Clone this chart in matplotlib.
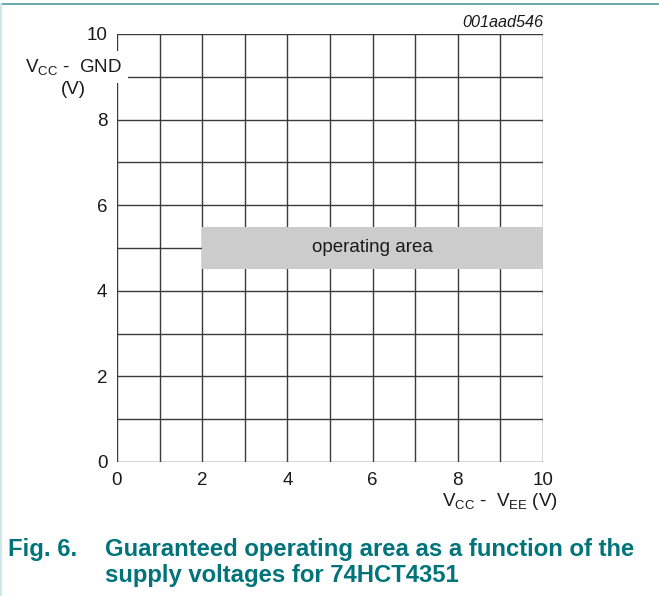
import matplotlib
matplotlib.use("Agg")
import matplotlib.pyplot as plt
from matplotlib.lines import Line2D

plt.rcParams['font.family'] = ['Liberation Sans', 'DejaVu Sans']
plt.rcParams['mathtext.fontset'] = 'custom'
plt.rcParams['mathtext.rm'] = 'Liberation Sans'
plt.rcParams['mathtext.it'] = 'Liberation Sans:italic'

# Data
x_ticks = [0, 2, 4, 6, 8, 10]
y_ticks = [0, 2, 4, 6, 8, 10]
grid_x = [0, 1, 2, 3, 4, 5, 6, 7, 8, 9, 10]
grid_y = [0, 1, 2, 3, 4, 5, 6, 7, 8, 9, 10]
area_x = [2, 10]
area_y_low = [4.5, 4.5]
area_y_high = [5.5, 5.5]
area_label = "operating area"
fig_id = "001aad546"
caption_num = "Fig. 6."
caption_text = ["Guaranteed operating area as a function of the",
                "supply voltages for 74HCT4351"]

W, H = 659, 596


def px(x, y):
    return x / W, 1 - y / H


fig = plt.figure(figsize=(W / 100, H / 100), dpi=100)
ax = fig.add_axes([117 / W, (H - 462) / H, (543 - 117) / W, (462 - 34) / H])
ax.set_xlim(0, 10)
ax.set_ylim(0, 10)

line_col = '#3a3a3a'
lw = 1.0
for gx in grid_x:
    ax.axvline(gx, color=line_col, lw=lw, zorder=1)
for gy in grid_y:
    ax.axhline(gy, color=line_col, lw=lw, zorder=1)
for s in ax.spines.values():
    s.set_visible(False)

ax.fill_between(area_x, area_y_low, area_y_high, color='#cccccc', lw=0, zorder=2)
ax.text(6, 5, area_label, ha='center', va='center', fontsize=13.5, color='#1a1a1a', zorder=3)

ax.set_xticks(x_ticks)
ax.set_yticks(y_ticks)
ax.tick_params(length=0, labelsize=13.5, colors='#1a1a1a')
ax.tick_params(axis='x', pad=7)
ax.tick_params(axis='y', pad=7)

txt_col = '#1a1a1a'
# y-axis label, first line with white background covering the axis
fig.text(*px(122, 72), r"V$_{\rm CC}$ -  GND", ha='right', va='baseline',
         fontsize=13.5, color=txt_col, zorder=5,
         bbox=dict(facecolor='white', edgecolor='none', pad=4.5))
fig.text(*px(73.5, 94), "(V)", ha='center', va='baseline', fontsize=13.5,
         color=txt_col, zorder=5)

# x-axis label
fig.text(*px(500, 506), r"V$_{\rm CC}$ -  V$_{\rm EE}$ (V)", ha='center', va='baseline',
         fontsize=13.5, color=txt_col)

# figure id
fig.text(*px(543, 27), fig_id, ha='right', va='baseline', fontsize=11.7, style='italic',
         color=txt_col)

# caption
teal = '#00737b'
fig.text(*px(8, 556), caption_num, ha='left', va='baseline', fontsize=17.2,
         fontweight='bold', color=teal)
fig.text(*px(105, 556), caption_text[0], ha='left', va='baseline', fontsize=17.2,
         fontweight='bold', color=teal)
fig.text(*px(105, 582), caption_text[1], ha='left', va='baseline', fontsize=17.2,
         fontweight='bold', color=teal)

# frame lines
fig.add_artist(Line2D([0, 1], [1 - 3.5 / H, 1 - 3.5 / H], transform=fig.transFigure,
                      color='#4f9aa1', lw=1.2))
fig.add_artist(Line2D([0.8 / W, 0.8 / W], [0, 1 - 3.5 / H], transform=fig.transFigure,
                      color='#cfe6eb', lw=1.5))

fig.savefig("out.png", dpi=100)
